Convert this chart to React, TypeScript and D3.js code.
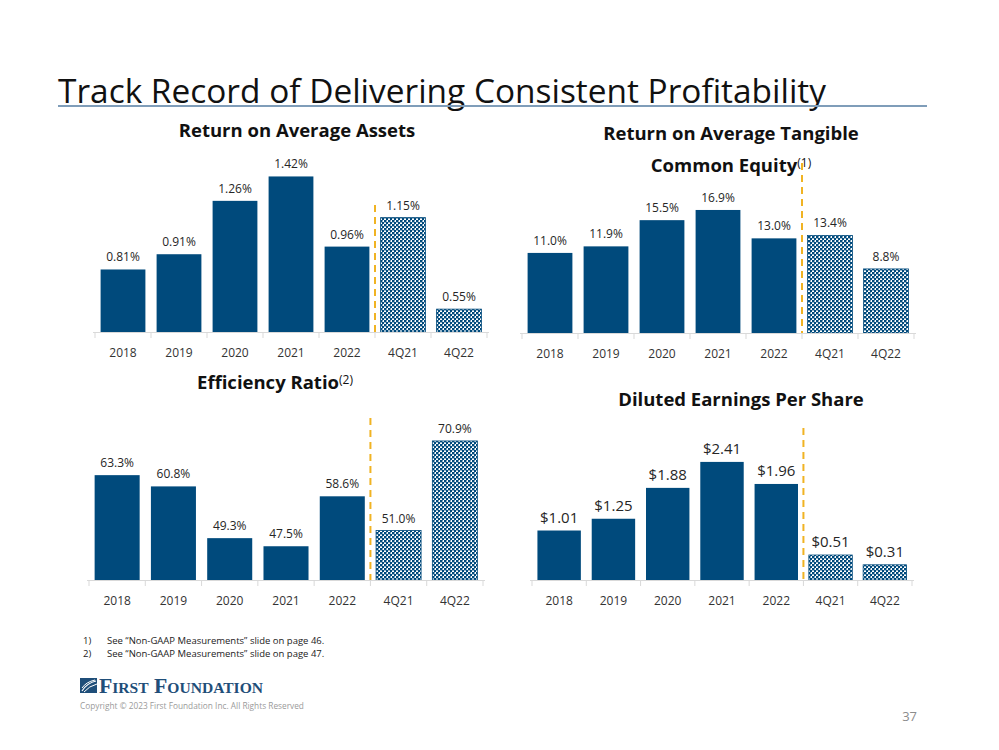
import React from 'react';
import * as d3 from 'd3';

const categories = ['2018', '2019', '2020', '2021', '2022', '4Q21', '4Q22'];
const roaa = [0.81, 0.91, 1.26, 1.42, 0.96, 1.15, 0.55];
const roatce = [11.0, 11.9, 15.5, 16.9, 13.0, 13.4, 8.8];
const efficiency = [63.3, 60.8, 49.3, 47.5, 58.6, 51.0, 70.9];
const eps = [1.01, 1.25, 1.88, 2.41, 1.96, 0.51, 0.31];
const quarterly = ['4Q21', '4Q22'];

const BLUE = '#004A7C';
const FONT = "'Open Sans', 'Noto Sans', sans-serif";

type Panel = {
  id: string;
  values: number[];
  fmt: (v: number) => string;
  x0: number; x1: number;
  base: number; min: number; max: number; top: number;
  dashTop: number;
  labelSize: number;
  labelGap: number;
};

const panels: Panel[] = [
  { id: 'p1', values: roaa, fmt: v => v.toFixed(2) + '%', x0: 95, x1: 487, base: 332, min: 0.4, max: 1.6, top: 149, dashTop: 205, labelSize: 12, labelGap: 8 },
  { id: 'p2', values: roatce, fmt: v => v.toFixed(1) + '%', x0: 522, x1: 914, base: 333, min: 0, max: 20, top: 333 - 7.28 * 20, dashTop: 163, labelSize: 12, labelGap: 8 },
  { id: 'p3', values: efficiency, fmt: v => v.toFixed(1) + '%', x0: 89, x1: 483, base: 580, min: 40, max: 75, top: 580 - 4.5 * 35, dashTop: 418, labelSize: 12, labelGap: 8 },
  { id: 'p4', values: eps, fmt: v => '$' + v.toFixed(2), x0: 532, x1: 912, base: 580, min: 0, max: 2.6, top: 580 - 49 * 2.6, dashTop: 428, labelSize: 15, labelGap: 8 },
];

function BarPanel({ p }: { p: Panel }) {
  const x = d3.scaleBand<string>().domain(categories).range([p.x0, p.x1]).paddingInner(0.2).paddingOuter(0.1);
  const y = d3.scaleLinear().domain([p.min, p.max]).range([p.base, p.top]);
  const step = x.step();
  const ticks = d3.range(categories.length + 1).map(i => p.x0 + i * step);
  const dashX = p.x0 + 5 * step;
  return (
    <g>
      {categories.map((c, i) => {
        const v = p.values[i];
        const isQ = quarterly.includes(c);
        const bx = x(c)!;
        const by = y(v);
        return (
          <g key={c}>
            <rect x={bx} y={by} width={x.bandwidth()} height={p.base - by}
              fill={isQ ? 'url(#checker)' : BLUE} stroke={isQ ? BLUE : 'none'} strokeWidth={isQ ? 0.8 : 0} />
            <text x={bx + x.bandwidth() / 2} y={by - p.labelGap} textAnchor="middle" fontSize={p.labelSize} fill="#262626" fontFamily={FONT}>{p.fmt(v)}</text>
            <text x={bx + x.bandwidth() / 2} y={p.base + 25} textAnchor="middle" fontSize={12} fill="#333" fontFamily={FONT}>{c}</text>
          </g>
        );
      })}
      <line x1={p.x0 - 2} x2={p.x1 + 2} y1={p.base + 0.5} y2={p.base + 0.5} stroke="#D9D9D9" strokeWidth={1} />
      {ticks.map((t, i) => (
        <line key={i} x1={t} x2={t} y1={p.base} y2={p.base + 6} stroke="#D9D9D9" strokeWidth={1} />
      ))}
      <line x1={dashX} x2={dashX} y1={p.dashTop} y2={p.base} stroke="#F0B323" strokeWidth={2} strokeDasharray="7,5" />
    </g>
  );
}

export default function App() {
  const titleStyle = { fontSize: 18.5, fontWeight: 'bold' as const, fontFamily: FONT, fill: '#111' };
  return (
    <svg width={999} height={750} style={{ position: 'absolute', left: 0, top: 0, background: '#fff' }}>
      <defs>
        <pattern id="checker" width={4} height={4} patternUnits="userSpaceOnUse">
          <rect width={4} height={4} fill="#ffffff" />
          <rect x={0} y={0} width={2.4} height={2.4} fill={BLUE} />
          <rect x={2} y={2} width={2.4} height={2.4} fill={BLUE} />
          <rect x={2} y={0} width={0.6} height={0.6} fill={BLUE} />
        </pattern>
      </defs>
      <rect width={999} height={750} fill="#fff" />
      <text x={58} y={103} fontSize={32} fontFamily={FONT} fill="#111" textLength={768} lengthAdjust="spacingAndGlyphs">Track Record of Delivering Consistent Profitability</text>
      <line x1={58} x2={927} y1={106} y2={106} stroke="#7F9DB9" strokeWidth={2} />

      <text x={297} y={137} textAnchor="middle" {...titleStyle}>Return on Average Assets</text>
      <text x={731} y={140} textAnchor="middle" {...titleStyle}>Return on Average Tangible</text>
      <text x={731} y={172} textAnchor="middle" {...titleStyle}>Common Equity<tspan fontSize={12} fontWeight="normal" dy={-5}>(1)</tspan></text>
      <text x={275} y={389} textAnchor="middle" {...titleStyle}>Efficiency Ratio<tspan fontSize={12} fontWeight="normal" dy={-5}>(2)</tspan></text>
      <text x={741} y={406} textAnchor="middle" {...titleStyle}>Diluted Earnings Per Share</text>

      {panels.map(p => <BarPanel key={p.id} p={p} />)}

      <text x={83} y={644} fontSize={9.5} fontFamily={FONT} fill="#222">1)</text>
      <text x={107} y={644} fontSize={9.5} fontFamily={FONT} fill="#222">See “Non-GAAP Measurements” slide on page 46.</text>
      <text x={83} y={657} fontSize={9.5} fontFamily={FONT} fill="#222">2)</text>
      <text x={107} y={657} fontSize={9.5} fontFamily={FONT} fill="#222">See “Non-GAAP Measurements” slide on page 47.</text>

      <g>
        <path d="M80,678 L97,678 L97,693 L80,693 Z" fill="#1F4E79" />
        <path d="M82,691 Q87,683 96,681" stroke="#fff" strokeWidth={1.2} fill="none" />
        <path d="M82,688 Q86,682 95,680" stroke="#fff" strokeWidth={1} fill="none" />
        <path d="M84,692 Q89,686 97,684" stroke="#fff" strokeWidth={1} fill="none" />
        <text x={99} y={693} fontSize={21} fontWeight="bold" fontFamily="'Liberation Serif', serif" fill="#1F4E79" style={{ fontVariant: 'small-caps' }} textLength={164} lengthAdjust="spacingAndGlyphs">First Foundation</text>
      </g>
      <text x={80} y={709} fontSize={8.3} fontFamily={FONT} fill="#9A9A9A">Copyright © 2023 First Foundation Inc. All Rights Reserved</text>
      <text x={917} y={721} textAnchor="end" fontSize={13} fontFamily={FONT} fill="#8C8C8C">37</text>
    </svg>
  );
}
